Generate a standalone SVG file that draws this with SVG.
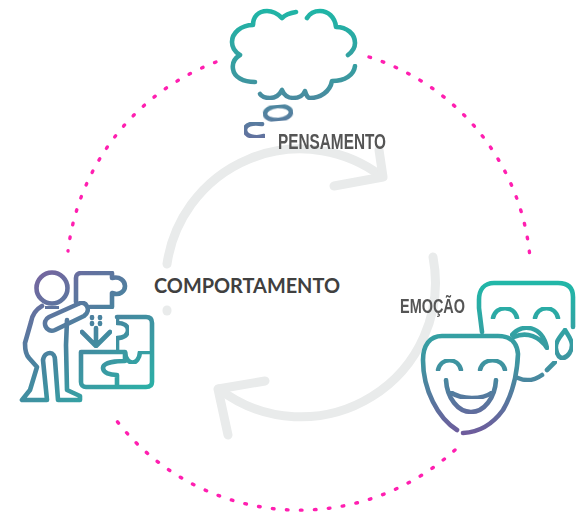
<svg xmlns="http://www.w3.org/2000/svg" width="584" height="513" viewBox="0 0 584 513">
<defs>
<linearGradient id="gc" gradientUnits="userSpaceOnUse" x1="0" y1="10" x2="0" y2="140"><stop offset="0" stop-color="#1fb5a6"/><stop offset="0.5" stop-color="#3a9aa0"/><stop offset="1" stop-color="#64709f"/></linearGradient>
<linearGradient id="gm" gradientUnits="userSpaceOnUse" x1="0" y1="280" x2="0" y2="435"><stop offset="0" stop-color="#20b8a8"/><stop offset="0.55" stop-color="#3f93a0"/><stop offset="1" stop-color="#6f5a9c"/></linearGradient>
<linearGradient id="gp" gradientUnits="userSpaceOnUse" x1="40" y1="270" x2="130" y2="400"><stop offset="0" stop-color="#76649f"/><stop offset="0.5" stop-color="#47859f"/><stop offset="1" stop-color="#2cafa6"/></linearGradient>
<filter id="soft" x="-5%" y="-5%" width="110%" height="110%"><feGaussianBlur stdDeviation="0.55"/></filter>
<style>
.dot{fill:none;stroke:#ff1fb0;stroke-width:3.4;stroke-linecap:round;stroke-dasharray:1.6 12.4}
.ring{fill:none;stroke:#e9ebeb;stroke-width:9;stroke-linecap:round;stroke-linejoin:round}
.ic{fill:none;stroke-width:4.6;stroke-linecap:round;stroke-linejoin:round;filter:url(#soft)}
.c{stroke:url(#gc)}.m{stroke:url(#gm)}.p{stroke:url(#gp)}
.lab{font-family:"Liberation Sans",Arial,sans-serif;font-weight:700;fill:#555;filter:url(#soft)}
</style>
</defs>
<rect width="584" height="513" fill="#fff"/>
<g id="connectors">
<path class="dot" d="M216 62A231.5 231.5 0 0 0 68 251"/>
<path class="dot" d="M369 57A231.5 231.5 0 0 1 530 258"/>
<path class="dot" d="M455 450A231.5 231.5 0 0 1 113 416"/>
<path class="ring" d="M167 264A134.5 134.5 0 0 1 381 176"/>
<path class="ring" d="M167 311V310"/>
<path class="ring" d="M379 150L383 177L334 186"/>
<path class="ring" d="M433 257A134.5 134.5 0 0 1 219 389"/>
<path class="ring" d="M265 381L218 389L228 435"/>
</g>
<g id="pensamento">
<path class="ic c" d="M296 12C290 13 285 15 282 18C277 13 272 11 267 11C258 11 253 17 253 25C241 25 232 33 232 42C232 47 235 52 240 55C235 58 232 63 233 69C234 77 243 82 255 82"/>
<path class="ic c" d="M307 18C310 13 315 11 320 11C328 11 335 17 336 27C347 27 355 34 355 43C355 48 352 52 348 55"/>
<path class="ic c" d="M355 66C354 75 345 81 332 81C330 92 320 98 310 98C308 98 306 95 305 91C303 96 298 98 293 98C288 98 284 95 282 90C279 96 275 98 270 98C266 98 262 97 260 94"/>
<ellipse class="ic c" cx="278" cy="113" rx="13" ry="7" transform="rotate(-5 278 113)"/>
<path class="ic c" d="M262 124C252 122 245 125 245 130C245 136 255 139 264 136"/>
<text class="lab" x="278" y="149" font-size="22" textLength="108" lengthAdjust="spacingAndGlyphs">PENSAMENTO</text>
</g>
<g id="emocao">
<path class="ic m" d="M482 332L479 308V300C479 290 484 283 494 283H558C568 283 573 288 573 297V327"/>
<path class="ic m" d="M493 318C496 305 514 305 517 318M535 318C538 305 555 305 558 318"/>
<path class="ic m" d="M512 335C522 323 542 325 547 348C540 337 527 331 514 337"/>
<path class="ic m" d="M565 330C560 337 555 342 556 349C557 355 560 358 563 358C568 357 572 351 572 345C572 340 568 335 565 330Z"/>
<path class="ic m" d="M547 370L555 362M518 378C527 382 535 380 542 375"/>
<path class="ic m" d="M457 430C438 418 423 390 423 360C423 345 430 336 442 336H498C510 336 517 342 518 354C517 378 510 398 503 410C495 421 483 432 463 433"/>
<path class="ic m" d="M438 370C441 357 458 357 461 370M480 370C483 357 502 357 505 370"/>
<path class="ic m" d="M446 380C447 398 458 412 471 412C484 412 495 398 496 380"/>
<path class="ic m" d="M450 392C462 400 482 400 493 392"/>
<text class="lab" x="400" y="313" font-size="20" textLength="65" lengthAdjust="spacingAndGlyphs">EMOÇÃO</text>
</g>
<g id="comportamento">
<circle class="ic p" cx="52" cy="288" r="15.5"/>
<path class="ic p" d="M42 306C35 310 32 316 31 322L25 343C25 350 26 355 29 358L37 367L30 390L22 400H47L43 360C44 354 48 353 50 353C53 353 55 356 55 360L58 400H80V396L67 390L66 345L67 320"/>
<path class="ic p" d="M58 308L46 307"/>
<path class="ic p" d="M78 304L49 317C41 321 46 334 55 330L84 316C92 311 86 299 78 304Z"/>
<path class="ic p" d="M76 302V278C76 275 78 273 81 273H112V278C120 276 125 281 125 286C125 291 120 296 112 293V307H90"/>
<path class="ic p" d="M92 317V318M100 317V318M92 323V324M100 323V324M96 328V345M82 332L96 346L110 332"/>
<path class="ic p" d="M117 317H146C150 317 152 319 152 323V382C152 385 150 387 146 387H86C83 387 81 385 81 382V352H125V361C118 361 103 362 103 368C103 373 110 375 117 375V387"/>
<path class="ic p" d="M117 317V323C124 323 128 326 128 330C128 335 124 338 117 338V352"/>
<path class="ic p" d="M125 352C126 366 139 366 140 352H152"/>
<text x="154" y="293" font-family="Lato,'Liberation Sans',sans-serif" font-size="20" font-weight="700" fill="#404040" textLength="186" lengthAdjust="spacingAndGlyphs">COMPORTAMENTO</text>
</g>
</svg>
